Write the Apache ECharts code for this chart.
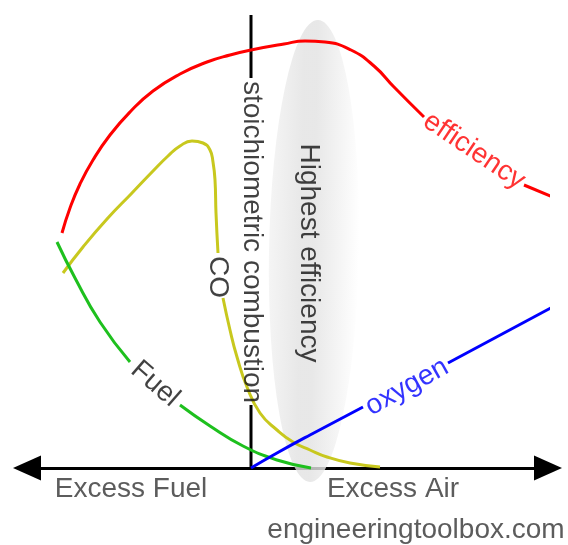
<!DOCTYPE html>
<html>
<head>
<meta charset="utf-8">
<script src="https://cdn.jsdelivr.net/npm/echarts@6/dist/echarts.min.js"></script>
<style>
html,body{margin:0;padding:0;background:#fff;}
#c{width:568px;height:545px;}
</style>
</head>
<body>
<div id="c"></div>
<script>
// Schematic coordinates: x = excess air (0 = stoichiometric), y = level (0 = baseline)
const effA = [[-189,235],[-181,260],[-171,284],[-158,308],[-141,333],[-121,356],[-98,377],[-71,394],[-44,406],[-21,413],[0,418],[33,424],[54,427],[74,426],[100,418],[123,402],[143,381],[173,351]];
const effB = [[273,283],[316,265]];
const coA = [[-188,195],[-168,221],[-144,249],[-119,275],[-98,297],[-83,312],[-71,322],[-59,327],[-48,325],[-41,318],[-38,306],[-36,288],[-35,255],[-33,215]];
const coB = [[-28,170],[-21,138],[-14,111],[-4,81],[9,55],[26,38],[42,26],[59,18],[76,11],[99,5],[129,1]];
const fuelA = [[-194,226],[-176,190],[-151,146],[-121,106]];
const fuelB = [[-71,63],[-41,42],[-8,22],[26,8],[60,0]];
const oxyA = [[0,0],[26,15],[59,33],[112,61]];
const oxyB = [[197,105],[311,166]];
const stoichA = [[0,453],[0,390]];
const stoichB = [[0,63],[0,0]];
const zoneCenter = [[63,217]];

const labelTexts = ['stoichiometric combustion','Highest efficiency','CO','efficiency','Fuel','oxygen','Excess Fuel','Excess Air','engineeringtoolbox.com'];
const labelPos = [[1,226],[58,215],[-33,191],[223,317],[-96,84],[156,81],[-120,-21],[142,-21],[165,-62]];
const labelRot = [-90,-90,-90,-34,-41,29,0,0,0];
const labelColors = ['#111','#111','#111','#ff0000','#111','#0000ff','#333','#333','#333'];

const FONT = "'Liberation Sans', Arial, sans-serif";
const chart = echarts.init(document.getElementById('c'), null, {renderer:'canvas'});

function lineSeries(data, color, width) {
  return {type:'line', data:data, smooth:0.5, symbol:'none', clip:false, z:3,
    lineStyle:{color:color, width:width||3}, silent:true, animation:false};
}

chart.setOption({
  animation:false,
  backgroundColor:'#fff',
  grid:{left:27, right:20, top:0, bottom:0},
  xAxis:{type:'value', min:-224, max:297,
    axisLine:{show:true, onZero:true, symbol:['triangle','triangle'], symbolSize:[25,28],
      lineStyle:{color:'#000', width:3}},
    axisTick:{show:false}, axisLabel:{show:false}, splitLine:{show:false}},
  yAxis:{type:'value', min:-77, max:468, show:false, splitLine:{show:false}},
  series:[
    {type:'scatter', data:zoneCenter, symbol:'circle', symbolSize:[90,462], symbolRotate:-1, z:1, silent:true,
      itemStyle:{color:new echarts.graphic.LinearGradient(0,0,1,0,[
        {offset:0,color:'#f2f2f2'},{offset:0.35,color:'#e2e2e2'},{offset:0.5,color:'#e2e2e2'},
        {offset:0.8,color:'#f3f3f3'},{offset:1,color:'#ffffff'}])}},
    lineSeries(stoichA,'#000',3),
    lineSeries(stoichB,'#000',3),
    lineSeries(effA,'#ff0000'),
    lineSeries(effB,'#ff0000'),
    lineSeries(coA,'#c8c81e'),
    lineSeries(coB,'#c8c81e'),
    lineSeries(fuelA,'#1ec01e'),
    lineSeries(fuelB,'#1ec01e'),
    lineSeries(oxyA,'#0000ff'),
    lineSeries(oxyB,'#0000ff'),
    {type:'scatter', symbolSize:0, z:5, silent:true,
      data: labelTexts.map((t,i)=>({value:labelPos[i], name:t,
        label:{rotate:labelRot[i], color:labelColors[i]}})),
      label:{show:true, position:'inside', formatter:p=>p.name, fontSize:28,
        fontFamily:FONT, align:'center', verticalAlign:'middle'}}
  ]
});
</script>
</body>
</html>
